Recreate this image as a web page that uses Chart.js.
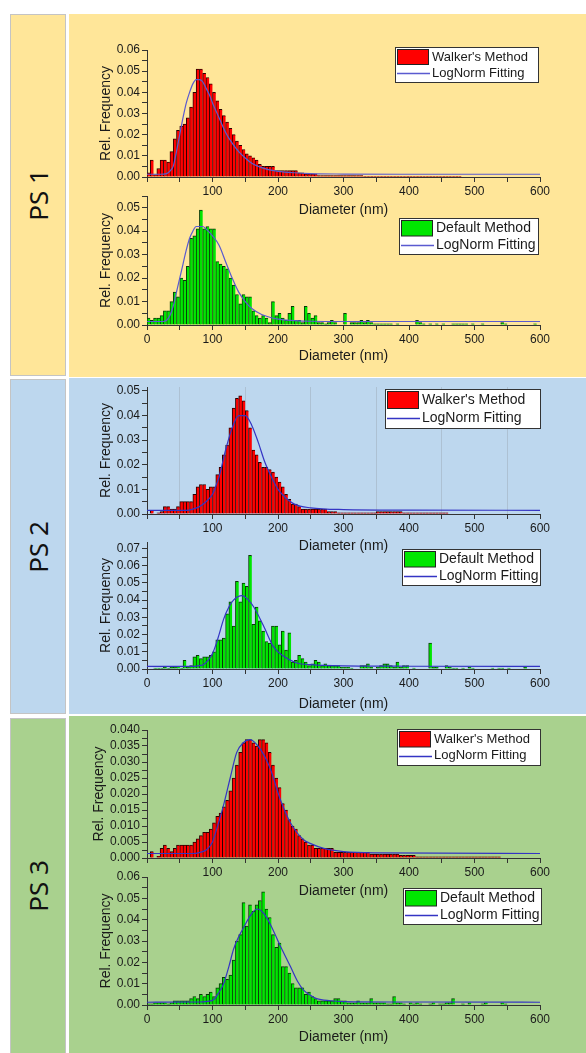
<!DOCTYPE html>
<html>
<head>
<meta charset="utf-8">
<script src="https://cdn.jsdelivr.net/npm/chart.js@4.4.0/dist/chart.umd.min.js"></script>
<style>
body { margin: 0; background: #fff; }
#page { position: relative; width: 586px; height: 1053px; overflow: hidden; }
.tag { position: absolute; left: 10px; width: 54px; border: 1px solid #c4c4c4; display: flex; align-items: center; justify-content: center; }
.tag span { transform: rotate(-90deg); font: 26px "Noto Sans", sans-serif; white-space: nowrap; color: #111; }
.band { position: absolute; left: 69px; width: 517px; }
canvas { position: absolute; }
</style>
</head>
<body>
<div id="page">
  <div class="band" style="top:14px;height:363px;background:#ffe699"></div>
  <div class="band" style="top:378px;height:336px;background:#bdd7ee"></div>
  <div class="band" style="top:716px;height:337px;background:#a9d18e"></div>
  <div class="tag" style="top:14px;height:360px;background:#ffe699"><span>PS 1</span></div>
  <div class="tag" style="top:379px;height:333px;background:#bdd7ee"><span>PS 2</span></div>
  <div class="tag" style="top:718px;height:334px;background:#a9d18e"><span>PS 3</span></div>
</div>
<script>
// histogram bins are 5 nm wide, starting at 0 nm
const binWidth = 5;

const ps1Walker = [
  0.002, 0.008, 0.001, 0.004, 0.008, 0.008, 0.007, 0.012, 0.018, 0.022,
  0.024, 0.025, 0.028, 0.033, 0.040, 0.051, 0.051, 0.049, 0.047, 0.044,
  0.040, 0.036, 0.032, 0.029, 0.026, 0.023, 0.020, 0.017, 0.015, 0.013,
  0.011, 0.010, 0.009, 0.008, 0.006, 0.005, 0.005, 0.005, 0.005, 0.003,
  0.003, 0.003, 0.003, 0.003, 0.003, 0.003, 0.002, 0.002, 0.0015, 0.0015,
  0.0015, 0.0015, 0.0007, 0.0007, 0.0007, 0.0007, 0.0007, 0.0007, 0.0007, 0.0007,
  0.0007, 0.0007, 0.0007, 0.0007, 0.0007, 0.0007, 0.0003, 0.0003, 0.0003, 0.0003,
  0.0003, 0.0003, 0.0003, 0.0003, 0.0003, 0.0003, 0.0003, 0.0003, 0.0003, 0.0003,
  0.0003, 0.0003, 0.0003, 0.0003, 0.0003, 0.0003, 0.0003, 0.0003, 0.0003, 0.0003,
  0.0003, 0.0003, 0.0003, 0.0003, 0.0003, 0.0003, 0, 0, 0, 0
];
const ps1WalkerFitX = [0, 20, 30, 35, 40, 45, 50, 55, 60, 65, 70, 75, 80, 85, 90, 95, 100, 110, 120, 130, 140, 150, 160, 170, 185, 200, 225, 250, 300, 400, 600];
const ps1WalkerFitY = [0.0013, 0.0013, 0.0016, 0.0028, 0.005, 0.012, 0.020, 0.028, 0.035, 0.040, 0.044, 0.046, 0.046, 0.045, 0.042, 0.039, 0.035, 0.028, 0.021, 0.016, 0.012, 0.009, 0.0065, 0.005, 0.0035, 0.0027, 0.002, 0.0016, 0.0014, 0.0013, 0.0013];

const ps1Default = [
  0.003, 0.002, 0.003, 0.003, 0.004, 0.006, 0.006, 0.010, 0.014, 0.012,
  0.020, 0.019, 0.025, 0.037, 0.038, 0.041, 0.049, 0.041, 0.042, 0.041,
  0.041, 0.027, 0.026, 0.025, 0.024, 0.020, 0.017, 0.013, 0.009, 0.013,
  0.012, 0.012, 0.006, 0.004, 0.003, 0.004, 0.003, 0.001, 0.010, 0.004,
  0.005, 0.003, 0.002, 0.005, 0.008, 0.002, 0.002, 0.001, 0.008, 0.005,
  0.003, 0.004, 0.001, 0.001, 0.0005, 0.001, 0.002, 0.001, 0, 0,
  0.005, 0, 0.001, 0.001, 0.001, 0.002, 0.001, 0.002, 0.001, 0.0005,
  0.0005, 0.0005, 0.0005, 0.0005, 0.0005, 0, 0.0005, 0, 0, 0,
  0, 0, 0.002, 0.001, 0.0005, 0, 0.0005, 0, 0.0005, 0,
  0.0005, 0, 0, 0.0005, 0.0005, 0.0005, 0.0005, 0.0005, 0, 0.0005,
  0, 0, 0.0005, 0, 0, 0, 0, 0, 0.001, 0.0005,
  0, 0, 0, 0, 0, 0, 0, 0, 0.0005, 0
];
const ps1DefaultFitX = [0, 25, 30, 35, 40, 45, 50, 55, 60, 65, 70, 75, 80, 85, 90, 100, 110, 120, 130, 140, 150, 160, 175, 200, 225, 250, 300, 600];
const ps1DefaultFitY = [0.0015, 0.0015, 0.002, 0.004, 0.008, 0.014, 0.020, 0.026, 0.032, 0.037, 0.040, 0.042, 0.042, 0.042, 0.041, 0.038, 0.034, 0.027, 0.020, 0.014, 0.010, 0.007, 0.0045, 0.0025, 0.0019, 0.0016, 0.0015, 0.0015];

const ps2Walker = [
  0, 0.0015, 0, 0.0005, 0.001, 0.003, 0.003, 0.002, 0.002, 0.003,
  0.005, 0.005, 0.005, 0.005, 0.008, 0.011, 0.012, 0.012, 0.010, 0.011,
  0.011, 0.016, 0.019, 0.024, 0.028, 0.035, 0.043, 0.047, 0.048, 0.046,
  0.042, 0.035, 0.026, 0.024, 0.021, 0.019, 0.019, 0.018, 0.017, 0.015,
  0.013, 0.011, 0.008, 0.006, 0.004, 0.004, 0.003, 0.002, 0.002, 0.002,
  0.002, 0.002, 0.002, 0.002, 0.002, 0.001, 0.001, 0.001, 0.0005, 0.0005,
  0.0005, 0.0005, 0.0005, 0.0005, 0.0005, 0.0005, 0.0005, 0.0005, 0.0005, 0.0005,
  0.001, 0.001, 0.001, 0.001, 0.001, 0.001, 0.001, 0.001, 0.0005, 0.0005,
  0.0005, 0.0005, 0.0005, 0.0005, 0.0005, 0.0005, 0.0005, 0.0005, 0.0005, 0.0005,
  0.0005, 0.0005, 0.0002, 0.0002, 0.0002, 0.0002, 0.0002, 0.0002, 0.0002, 0.0002,
  0.0002, 0.0002, 0.0002, 0.0002, 0.0002, 0.0002, 0.0002, 0.0002, 0.0002, 0.0002,
  0.0002, 0.0002, 0.0002, 0.0002, 0.0002, 0.0002, 0.0002, 0, 0, 0
];
const ps2WalkerFitX = [0, 60, 70, 80, 90, 100, 106, 110, 120, 130, 140, 150, 160, 170, 180, 190, 200, 210, 225, 250, 300, 400, 600];
const ps2WalkerFitY = [0.0015, 0.0015, 0.002, 0.003, 0.005, 0.008, 0.012, 0.015, 0.026, 0.035, 0.040, 0.040, 0.036, 0.029, 0.021, 0.015, 0.010, 0.007, 0.004, 0.0025, 0.0018, 0.0016, 0.0015];

const ps2Default = [
  0, 0, 0.0005, 0.0005, 0.0005, 0.001, 0.0005, 0.001, 0.001, 0.0015,
  0.0005, 0.005, 0.001, 0.002, 0.007, 0.008, 0.006, 0.007, 0.007, 0.008,
  0.010, 0.017, 0.017, 0.018, 0.032, 0.039, 0.025, 0.051, 0.039, 0.050,
  0.048, 0.066, 0.026, 0.036, 0.028, 0.022, 0.016, 0.015, 0.025, 0.025,
  0.014, 0.022, 0.011, 0.021, 0.004, 0.005, 0.008, 0.006, 0.004, 0.002,
  0.003, 0.005, 0.004, 0.002, 0.003, 0.002, 0.002, 0.002, 0.002, 0.001,
  0.001, 0.001, 0.0005, 0, 0, 0.002, 0.002, 0.003, 0.001, 0,
  0.001, 0.002, 0.003, 0.003, 0.002, 0.001, 0.004, 0.001, 0.002, 0.002,
  0, 0.0005, 0, 0, 0, 0, 0.015, 0.001, 0.001, 0,
  0, 0.002, 0.001, 0.0005, 0.0005, 0, 0.0005, 0, 0.001, 0.0005,
  0, 0, 0, 0, 0, 0.0005, 0, 0.0005, 0.0005, 0,
  0.0005, 0, 0, 0, 0, 0.001, 0, 0, 0, 0
];
const ps2DefaultFitX = [0, 70, 80, 86, 100, 106, 110, 117, 125, 132, 145, 155, 163, 178, 193, 208, 229, 250, 300, 400, 600];
const ps2DefaultFitY = [0.0015, 0.0015, 0.002, 0.0025, 0.009, 0.015, 0.020, 0.029, 0.036, 0.040, 0.0426, 0.040, 0.036, 0.025, 0.013, 0.0075, 0.0035, 0.0025, 0.0018, 0.0016, 0.0015];

const ps3Walker = [
  0, 0.002, 0, 0.0005, 0.003, 0.004, 0.003, 0.002, 0.003, 0.004,
  0.004, 0.004, 0.004, 0.004, 0.005, 0.006, 0.007, 0.008, 0.008, 0.009,
  0.011, 0.013, 0.014, 0.016, 0.018, 0.021, 0.025, 0.029, 0.033, 0.036,
  0.037, 0.037, 0.036, 0.035, 0.037, 0.037, 0.036, 0.033, 0.029, 0.025,
  0.022, 0.017, 0.015, 0.012, 0.010, 0.009, 0.007, 0.006, 0.005, 0.004,
  0.004, 0.003, 0.003, 0.003, 0.003, 0.003, 0.003, 0.0018, 0.0018, 0.0018,
  0.0018, 0.0018, 0.0018, 0.0018, 0.0018, 0.0018, 0.0018, 0.0018, 0.0012, 0.0012,
  0.0012, 0.0012, 0.0012, 0.0012, 0.0012, 0.0012, 0.0012, 0.0008, 0.0008, 0.0008,
  0.0008, 0.0008, 0.0004, 0.0004, 0.0004, 0.0004, 0.0004, 0.0004, 0.0004, 0.0004,
  0.0004, 0.0004, 0.0004, 0.0004, 0.0004, 0.0004, 0.0004, 0.0004, 0.0004, 0.0004,
  0.0004, 0.0004, 0.0004, 0.0004, 0.0004, 0.0004, 0.0004, 0.0004, 0, 0
];
const ps3WalkerFitX = [0, 70, 80, 91, 100, 106, 117, 127, 137, 147, 157, 173, 188, 203, 219, 239, 250, 270, 300, 350, 600];
const ps3WalkerFitY = [0.0014, 0.0014, 0.0017, 0.0026, 0.005, 0.0088, 0.0166, 0.025, 0.033, 0.036, 0.037, 0.034, 0.028, 0.0186, 0.011, 0.0057, 0.0045, 0.003, 0.002, 0.0016, 0.0014];

const ps3Default = [
  0.0005, 0.0005, 0.001, 0.001, 0.001, 0.001, 0.0005, 0.001, 0.002, 0.002,
  0.002, 0.002, 0.002, 0.003, 0.004, 0.003, 0.005, 0.004, 0.005, 0.006,
  0.004, 0.008, 0.010, 0.013, 0.012, 0.014, 0.021, 0.030, 0.033, 0.048,
  0.037, 0.047, 0.044, 0.047, 0.049, 0.053, 0.045, 0.041, 0.033, 0.027,
  0.029, 0.018, 0.018, 0.015, 0.010, 0.008, 0.008, 0.008, 0.005, 0.006,
  0.004, 0.003, 0.002, 0.002, 0.002, 0.002, 0.002, 0.003, 0.003, 0.002,
  0.002, 0.001, 0.001, 0.001, 0.002, 0.001, 0.001, 0.001, 0.003, 0.001,
  0.001, 0.001, 0.001, 0.0005, 0.0005, 0.004, 0.001, 0.001, 0.0005, 0,
  0.001, 0.0005, 0.001, 0.0005, 0, 0, 0.0005, 0.001, 0, 0.0005,
  0.0005, 0.001, 0.001, 0.003, 0, 0, 0.0005, 0, 0.001, 0,
  0, 0, 0.0005, 0.001, 0, 0, 0, 0, 0.001, 0.0005
];
const ps3DefaultFitX = [0, 80, 90, 101, 110, 117, 125, 132, 140, 147, 158, 168, 178, 188, 203, 219, 230, 239, 250, 259, 280, 300, 400, 600];
const ps3DefaultFitY = [0.0013, 0.0014, 0.0016, 0.0023, 0.006, 0.010, 0.018, 0.026, 0.032, 0.036, 0.042, 0.045, 0.043, 0.038, 0.028, 0.018, 0.011, 0.007, 0.0045, 0.003, 0.002, 0.0016, 0.0014, 0.0013];

const walkerName = "Walker's Method";
const defaultName = 'Default Method';
const fitName = 'LogNorm Fitting';

// placement of each sub-plot on the page (pixels)
const panels = [
  { freq: ps1Walker, fx: ps1WalkerFitX, fy: ps1WalkerFitY, name: walkerName, red: true, fitColor: '#5a5ad0',
    plotTop: 50, y0: 177, yMax: 0.06, yStep: 0.005, yMajor: 0.01, dec: 2, titleGap: 34, titlePad: 18, hideZero: true,
    box: { x: 395, y: 47, w: 144, h: 36, font: 13 } },
  { freq: ps1Default, fx: ps1DefaultFitX, fy: ps1DefaultFitY, name: defaultName, red: false, fitColor: '#5a5ad0',
    plotTop: 196, y0: 325, yMax: 0.055, yStep: 0.005, yMajor: 0.01, dec: 2, titleGap: 32, titlePad: 18, hideZero: false,
    box: { x: 399, y: 218, w: 140, h: 37, font: 14 } },
  { freq: ps2Walker, fx: ps2WalkerFitX, fy: ps2WalkerFitY, name: walkerName, red: true, fitColor: '#3434c4',
    plotTop: 387, y0: 514, yMax: 0.0516, yStep: 0.005, yMajor: 0.01, dec: 2, titleGap: 33, titlePad: 18, hideZero: true, grid: true,
    box: { x: 385, y: 389, w: 156, h: 40, font: 14 } },
  { freq: ps2Default, fx: ps2DefaultFitX, fy: ps2DefaultFitY, name: defaultName, red: false, fitColor: '#3434c4',
    plotTop: 542, y0: 669, yMax: 0.0738, yStep: 0.005, yMajor: 0.01, dec: 2, titleGap: 36, titlePad: 18, hideZero: false,
    box: { x: 402, y: 549, w: 139, h: 37, font: 14 } },
  { freq: ps3Walker, fx: ps3WalkerFitX, fy: ps3WalkerFitY, name: walkerName, red: true, fitColor: '#3434c4',
    plotTop: 730, y0: 858, yMax: 0.04, yStep: 0.0025, yMajor: 0.005, dec: 3, titleGap: 34, titlePad: 11, hideZero: true,
    box: { x: 397, y: 729, w: 144, h: 37, font: 13 } },
  { freq: ps3Default, fx: ps3DefaultFitX, fy: ps3DefaultFitY, name: defaultName, red: false, fitColor: '#3434c4',
    plotTop: 877, y0: 1005, yMax: 0.06, yStep: 0.005, yMajor: 0.01, dec: 2, titleGap: 33, titlePad: 18, hideZero: false,
    box: { x: 403, y: 888, w: 139, h: 37, font: 14 } }
];

const FONT = '"Liberation Sans", Arial, sans-serif';
Chart.defaults.font.family = FONT;
Chart.defaults.color = '#1a1a1a';

const boxLegend = {
  id: 'boxLegend',
  afterDraw(chart, args, o) {
    const ctx = chart.ctx;
    const ds = chart.data.datasets;
    const bx = o.box.x - o.left, by = o.box.y - o.top, bw = o.box.w, bh = o.box.h;
    const rowH = bh / 2, sw = 31;
    ctx.save();
    ctx.fillStyle = '#fff';
    ctx.fillRect(bx, by, bw, bh);
    ctx.strokeStyle = '#333';
    ctx.lineWidth = 1;
    ctx.strokeRect(bx + 0.5, by + 0.5, bw - 1, bh - 1);
    ctx.fillStyle = ds[0].backgroundColor;
    ctx.fillRect(bx + 2.5, by + 2.5, sw, rowH - 3);
    ctx.strokeStyle = '#222';
    ctx.strokeRect(bx + 2.5, by + 2.5, sw, rowH - 3);
    const ly = Math.round(by + rowH * 1.45) + 0.5;
    ctx.strokeStyle = ds[1].borderColor;
    ctx.lineWidth = 1.5;
    ctx.beginPath();
    ctx.moveTo(bx + 2, ly);
    ctx.lineTo(bx + sw + 4, ly);
    ctx.stroke();
    ctx.fillStyle = '#1a1a1a';
    ctx.font = o.box.font + 'px ' + FONT;
    ctx.textBaseline = 'middle';
    ctx.textAlign = 'left';
    ctx.fillText(ds[0].label, bx + sw + 6, by + rowH * 0.5 + 1);
    ctx.fillText(ds[1].label, bx + sw + 6, by + rowH * 1.45);
    ctx.restore();
  }
};

const page = document.getElementById('page');
const canvasLeft = 80, canvasWidth = 506, yAxisWidth = 67, padTop = 10, padRight = 46;

panels.forEach(p => {
  const xAxisHeight = Math.round(p.titleGap + 8.4);
  const top = p.plotTop - padTop;
  const height = Math.round(p.y0 + xAxisHeight - top);
  const cv = document.createElement('canvas');
  cv.width = canvasWidth;
  cv.height = height;
  cv.style.left = canvasLeft + 'px';
  cv.style.top = top + 'px';
  page.appendChild(cv);

  const barData = p.freq.map((v, i) => ({ x: binWidth * i + binWidth / 2, y: v }));
  const fitData = p.fx.map((x, i) => ({ x: x, y: p.fy[i] }));

  new Chart(cv, {
    type: 'bar',
    data: {
      datasets: [
        {
          type: 'bar', label: p.name, data: barData, order: 2,
          backgroundColor: p.red ? '#ff0000' : '#00e600',
          borderColor: p.red ? '#2a0000' : '#083a08',
          borderWidth: { top: 1, left: 1, right: 0, bottom: 0 },
          barPercentage: 1, categoryPercentage: 1
        },
        {
          type: 'line', label: fitName, data: fitData, order: 1,
          borderColor: p.fitColor, borderWidth: 1.2, pointRadius: 0,
          cubicInterpolationMode: 'monotone', fill: false
        }
      ]
    },
    options: {
      responsive: false,
      animation: false,
      layout: { padding: { top: padTop, right: padRight, left: 0, bottom: 0 } },
      plugins: {
        legend: { display: false },
        tooltip: { enabled: false },
        boxLegend: { box: p.box, left: canvasLeft, top: top }
      },
      scales: {
        x: {
          type: 'linear', min: 0, max: 600, offset: false,
          afterFit(s) { s.height = xAxisHeight; },
          border: { display: true, color: '#333', width: 1 },
          grid: {
            offset: false,
            drawOnChartArea: !!p.grid,
            color: c => (p.grid && c.tick && c.tick.value % 100 === 50) ? 'rgba(120,120,120,0.22)' : 'rgba(0,0,0,0)',
            tickColor: '#333', tickLength: 5
          },
          ticks: {
            stepSize: 50, autoSkip: false, maxRotation: 0, padding: 2,
            font: { size: 12 },
            callback: v => (v % 100 === 0 && !(p.hideZero && v === 0)) ? String(v) : ''
          },
          title: { display: true, text: 'Diameter (nm)', font: { size: 14 }, padding: 0 }
        },
        y: {
          min: 0, max: p.yMax,
          afterFit(s) { s.width = yAxisWidth; },
          border: { display: true, color: '#333', width: 1 },
          grid: { drawOnChartArea: false, tickColor: '#333', tickLength: 5 },
          ticks: {
            stepSize: p.yStep, includeBounds: false, autoSkip: false, padding: 2,
            font: { size: 12 },
            callback: v => {
              const r = v / p.yMajor;
              return Math.abs(r - Math.round(r)) < 1e-6 ? v.toFixed(p.dec) : '';
            }
          },
          title: { display: true, text: 'Rel. Frequency', font: { size: 14 }, padding: { top: p.titlePad, bottom: 0 } }
        }
      }
    },
    plugins: [boxLegend]
  });
});
</script>
</body>
</html>
